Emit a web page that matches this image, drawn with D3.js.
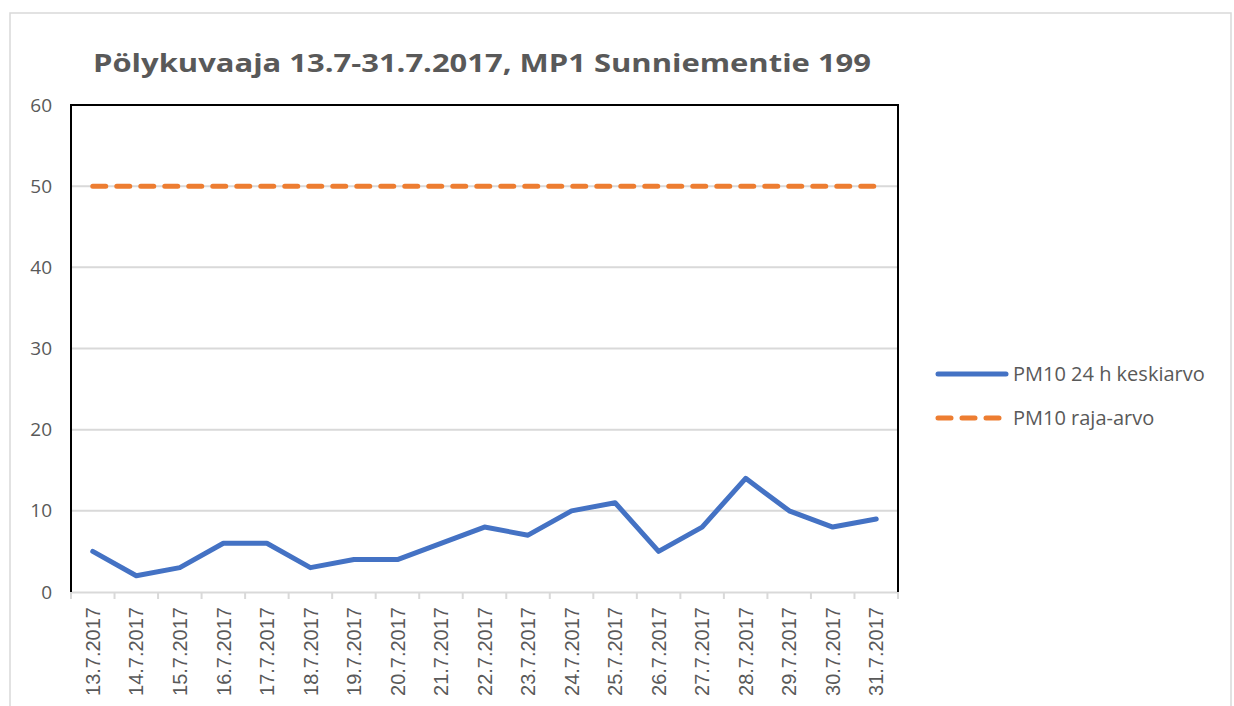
<!DOCTYPE html>
<html>
<head>
<meta charset="utf-8">
<script src="https://cdn.jsdelivr.net/npm/d3@7"></script>
<style>
  body { margin: 0; background: #fff; }
  text { font-family: "Open Sans", "Liberation Sans", sans-serif; fill: #595959; }
</style>
</head>
<body>
<svg id="chart" width="1234" height="706"></svg>
<script>
const dates = ["13.7.2017", "14.7.2017", "15.7.2017", "16.7.2017", "17.7.2017", "18.7.2017",
  "19.7.2017", "20.7.2017", "21.7.2017", "22.7.2017", "23.7.2017", "24.7.2017", "25.7.2017",
  "26.7.2017", "27.7.2017", "28.7.2017", "29.7.2017", "30.7.2017", "31.7.2017"];
const pm10 = [5, 2, 3, 6, 6, 3, 4, 4, 6, 8, 7, 10, 11, 5, 8, 14, 10, 8, 9];
const limit = [50, 50, 50, 50, 50, 50, 50, 50, 50, 50, 50, 50, 50, 50, 50, 50, 50, 50, 50];
const yTicks = [0, 10, 20, 30, 40, 50, 60];
const seriesNames = ["PM10 24 h keskiarvo", "PM10 raja-arvo"];
const title = "Pölykuvaaja 13.7-31.7.2017, MP1 Sunniementie 199";

const svg = d3.select("#chart");
const margin = { top: 105, left: 71, right: 336, bottom: 114 };
const width = 1234 - margin.left - margin.right;
const height = 706 - margin.top - margin.bottom;

// outer frame
svg.append("rect")
  .attr("x", 10).attr("y", 13)
  .attr("width", 1221).attr("height", 720)
  .attr("fill", "none")
  .attr("stroke", "#d9d9d9")
  .attr("stroke-width", 1.5);

svg.append("text")
  .attr("x", 93)
  .attr("y", 72)
  .attr("textLength", 778)
  .attr("lengthAdjust", "spacingAndGlyphs")
  .style("font-size", "25px")
  .style("font-weight", "bold")
  .text(title);

const g = svg.append("g").attr("transform", `translate(${margin.left},${margin.top})`);

const x = d3.scaleBand().domain(dates).range([0, width]);
const y = d3.scaleLinear().domain([0, 60]).range([height, 0]);

// gridlines
g.append("g")
  .selectAll("line")
  .data(yTicks.filter(t => t > 0 && t < 60))
  .enter()
  .append("line")
  .attr("x1", 0).attr("x2", width)
  .attr("y1", d => y(d)).attr("y2", d => y(d))
  .attr("stroke", "#d9d9d9")
  .attr("stroke-width", 2);

// Y labels
const yAxis = g.append("g")
  .call(d3.axisLeft(y).tickValues(yTicks).tickSize(0).tickPadding(19));
yAxis.select(".domain").remove();
yAxis.selectAll("text").style("font-size", "19px").attr("fill", "#595959");

// X axis
const xAxis = g.append("g")
  .attr("transform", `translate(0,${height})`)
  .call(d3.axisBottom(x).tickSize(0));
xAxis.select(".domain").attr("stroke", "#d9d9d9").attr("stroke-width", 2);
xAxis.selectAll("text")
  .style("font-size", "20px")
  .style("font-family", "'Liberation Sans', Arial, sans-serif")
  .attr("fill", "#595959")
  .attr("text-anchor", "end")
  .attr("transform", "rotate(-90)")
  .attr("x", -15)
  .attr("y", 0)
  .attr("dy", "0.36em");

// category boundary ticks
g.append("g")
  .selectAll("line")
  .data(d3.range(dates.length + 1))
  .enter()
  .append("line")
  .attr("x1", i => i * x.step()).attr("x2", i => i * x.step())
  .attr("y1", height).attr("y2", height + 7)
  .attr("stroke", "#d9d9d9")
  .attr("stroke-width", 2);

// plot border (top, left, right)
g.append("path")
  .attr("d", `M0,${height}V0H${width}V${height}`)
  .attr("fill", "none")
  .attr("stroke", "#000")
  .attr("stroke-width", 2);

const line = d3.line()
  .x((d, i) => x(dates[i]) + x.bandwidth() / 2)
  .y(d => y(d));

g.append("path")
  .datum(limit)
  .attr("d", line)
  .attr("fill", "none")
  .attr("stroke", "#ed7d31")
  .attr("stroke-width", 5)
  .attr("stroke-linecap", "round")
  .attr("stroke-dasharray", "13,11");

g.append("path")
  .datum(pm10)
  .attr("d", line)
  .attr("fill", "none")
  .attr("stroke", "#4472c4")
  .attr("stroke-width", 5)
  .attr("stroke-linejoin", "round")
  .attr("stroke-linecap", "round");

// legend
const legend = svg.append("g").attr("transform", "translate(938,374)");
const styles = [
  { color: "#4472c4", dash: null },
  { color: "#ed7d31", dash: "13,11" }
];
seriesNames.forEach((name, i) => {
  const row = legend.append("g").attr("transform", `translate(0,${i * 44})`);
  row.append("line")
    .attr("x1", 0).attr("x2", 68)
    .attr("stroke", styles[i].color)
    .attr("stroke-width", 5)
    .attr("stroke-linecap", "round")
    .attr("stroke-dasharray", styles[i].dash);
  row.append("text")
    .attr("x", 75)
    .attr("dy", "0.35em")
    .style("font-size", "20px")
    .text(name);
});
</script>
</body>
</html>
